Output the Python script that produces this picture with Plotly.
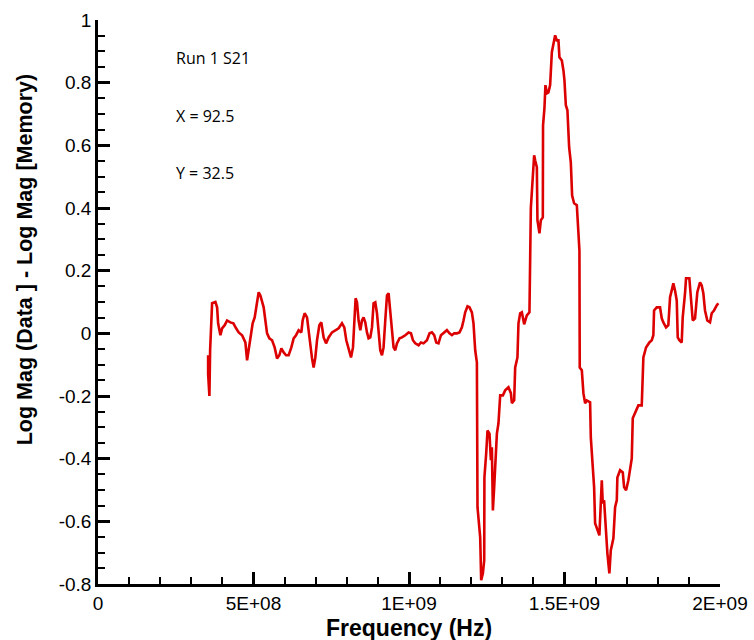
import plotly.graph_objects as go

# Frequency in GHz (converted to Hz below) and Log-Mag difference values
freq_ghz = [
    0.3541, 0.3541, 0.3582, 0.3605, 0.3669, 0.3775, 0.3830, 0.3862, 0.3936, 0.3990,
    0.4074, 0.4151, 0.4257, 0.4353, 0.4440, 0.4524, 0.4633, 0.4739, 0.4794, 0.4845,
    0.4900, 0.4973, 0.5038, 0.5115, 0.5166, 0.5221, 0.5275, 0.5327, 0.5382, 0.5436,
    0.5510, 0.5597, 0.5680, 0.5757, 0.5831, 0.5896, 0.5970, 0.6047, 0.6130, 0.6217,
    0.6291, 0.6368, 0.6451, 0.6538, 0.6580, 0.6644, 0.6721, 0.6773, 0.6827, 0.6882,
    0.6933, 0.6988, 0.7043, 0.7116, 0.7181, 0.7255, 0.7332, 0.7415, 0.7525, 0.7631,
    0.7737, 0.7846, 0.7920, 0.7984, 0.8058, 0.8135, 0.8199, 0.8241, 0.8283, 0.8328,
    0.8379, 0.8434, 0.8488, 0.8540, 0.8594, 0.8649, 0.8700, 0.8755, 0.8810, 0.8861,
    0.8916, 0.8970, 0.9022, 0.9076, 0.9131, 0.9182, 0.9237, 0.9292, 0.9343, 0.9398,
    0.9452, 0.9504, 0.9558, 0.9613, 0.9696, 0.9773, 0.9880, 0.9986, 1.0063, 1.0127,
    1.0201, 1.0307, 1.0384, 1.0468, 1.0577, 1.0660, 1.0737, 1.0811, 1.0876, 1.0949,
    1.1027, 1.1110, 1.1219, 1.1303, 1.1380, 1.1454, 1.1541, 1.1624, 1.1701, 1.1753,
    1.1807, 1.1881, 1.1945, 1.2022, 1.2074, 1.2129, 1.2183, 1.2203, 1.2289, 1.2321,
    1.2376, 1.2418, 1.2425, 1.2482, 1.2524, 1.2588, 1.2633, 1.2665, 1.2697, 1.2739,
    1.2781, 1.2826, 1.2877, 1.2932, 1.3019, 1.3092, 1.3198, 1.3276, 1.3308, 1.3382,
    1.3414, 1.3487, 1.3520, 1.3574, 1.3629, 1.3703, 1.3789, 1.3873, 1.3918, 1.3982,
    1.4024, 1.4056, 1.4111, 1.4130, 1.4195, 1.4239, 1.4303, 1.4310, 1.4355, 1.4387,
    1.4432, 1.4483, 1.4538, 1.4593, 1.4644, 1.4699, 1.4753, 1.4805, 1.4837, 1.4914,
    1.4966, 1.4998, 1.5043, 1.5094, 1.5149, 1.5203, 1.5245, 1.5309, 1.5396, 1.5428,
    1.5480, 1.5490, 1.5557, 1.5608, 1.5663, 1.5717, 1.5823, 1.5846, 1.5910, 1.5952,
    1.5984, 1.6058, 1.6122, 1.6199, 1.6231, 1.6273, 1.6337, 1.6379, 1.6443, 1.6488,
    1.6572, 1.6627, 1.6681, 1.6700, 1.6787, 1.6874, 1.6916, 1.6980, 1.7054, 1.7108,
    1.7163, 1.7195, 1.7269, 1.7375, 1.7484, 1.7536, 1.7622, 1.7729, 1.7806, 1.7857,
    1.7880, 1.7966, 1.8072, 1.8127, 1.8178, 1.8265, 1.8339, 1.8394, 1.8448, 1.8500,
    1.8554, 1.8609, 1.8641, 1.8692, 1.8769, 1.8801, 1.8876, 1.8908, 1.9014, 1.9059,
    1.9123, 1.9197, 1.9271, 1.9357, 1.9412, 1.9464, 1.9518, 1.9592, 1.9679, 1.9733,
    1.9807, 1.9894, 1.9945,
]
logmag_diff = [
    -0.070, -0.130, -0.200, -0.054, 0.096, 0.100, 0.083, 0.032, -0.006, 0.016,
    0.026, 0.041, 0.035, 0.032, 0.016, 0.003, -0.006, -0.029, -0.086, -0.054,
    -0.013, 0.032, 0.051, 0.105, 0.131, 0.121, 0.099, 0.083, 0.041, 0.000,
    -0.016, -0.022, -0.045, -0.080, -0.070, -0.048, -0.061, -0.070, -0.070, -0.045,
    -0.016, -0.006, 0.010, 0.003, 0.041, 0.064, 0.051, 0.003, -0.032, -0.080,
    -0.109, -0.077, -0.022, 0.026, 0.035, -0.013, -0.032, -0.013, 0.003, 0.010,
    0.016, 0.032, 0.019, -0.022, -0.054, -0.077, -0.045, 0.041, 0.112, 0.099,
    0.041, 0.010, 0.041, 0.051, 0.035, 0.003, -0.016, -0.013, 0.019, 0.096,
    0.099, 0.064, 0.010, -0.054, -0.070, -0.045, 0.041, 0.121, 0.128, 0.064,
    0.003, -0.045, -0.054, -0.032, -0.016, -0.013, -0.006, 0.003, 0.000, -0.022,
    -0.032, -0.038, -0.029, -0.032, -0.022, 0.000, 0.003, -0.006, -0.029, -0.032,
    -0.006, 0.000, 0.010, 0.000, -0.006, 0.000, 0.000, 0.003, 0.019, 0.041,
    0.067, 0.086, 0.083, 0.067, 0.032, -0.054, -0.093, -0.555, -0.651, -0.788,
    -0.766, -0.725, -0.460, -0.383, -0.310, -0.320, -0.405, -0.364, -0.565, -0.491,
    -0.383, -0.320, -0.287, -0.198, -0.198, -0.182, -0.172, -0.191, -0.223, -0.214,
    -0.109, -0.077, 0.032, 0.064, 0.067, 0.029, 0.057, 0.067, 0.400, 0.488,
    0.568, 0.552, 0.530, 0.361, 0.319, 0.361, 0.370, 0.664, 0.718, 0.792,
    0.766, 0.769, 0.792, 0.897, 0.926, 0.951, 0.935, 0.935, 0.881, 0.871,
    0.839, 0.808, 0.728, 0.712, 0.594, 0.546, 0.440, 0.415, 0.409, 0.335,
    0.265, -0.109, -0.118, -0.191, -0.223, -0.214, -0.220, -0.332, -0.447, -0.491,
    -0.606, -0.629, -0.645, -0.469, -0.543, -0.533, -0.661, -0.702, -0.766, -0.693,
    -0.654, -0.555, -0.533, -0.460, -0.437, -0.444, -0.491, -0.501, -0.469, -0.428,
    -0.399, -0.271, -0.255, -0.230, -0.230, -0.077, -0.045, -0.029, -0.022, -0.006,
    0.073, 0.083, 0.083, 0.048, 0.035, 0.019, 0.026, 0.115, 0.137, 0.160,
    0.137, 0.105, -0.013, -0.022, -0.029, 0.051, 0.128, 0.176, 0.176, 0.115,
    0.041, 0.048, 0.131, 0.163, 0.153, 0.128, 0.073, 0.041, 0.035, 0.064,
    0.073, 0.089, 0.096,
]
freq_hz = [f * 1e9 for f in freq_ghz]

x_tickvals = [0, 5e8, 1e9, 1.5e9, 2e9]
x_ticktext = ["0", "5E+08", "1E+09", "1.5E+09", "2E+09"]
y_tickvals = [-0.8, -0.6, -0.4, -0.2, 0, 0.2, 0.4, 0.6, 0.8, 1]
y_ticktext = ["-0.8", "-0.6", "-0.4", "-0.2", "0", "0.2", "0.4", "0.6", "0.8", "1"]

notes = ["Run 1 S21", "X = 92.5", "Y = 32.5"]
note_y = [0.878, 0.693, 0.511]

x_title = "Frequency (Hz)"
y_title = "Log Mag (Data ] - Log Mag [Memory)"

tick_font = dict(family="Liberation Sans, Arial, sans-serif", size=19, color="black")
title_font_family = "Liberation Sans, Arial, sans-serif"

fig = go.Figure()
fig.add_trace(go.Scatter(
    x=freq_hz, y=logmag_diff, mode="lines",
    line=dict(color="#dc0000", width=2.6),
    showlegend=False, hoverinfo="skip",
))

for t, yv in zip(notes, note_y):
    fig.add_annotation(
        x=2.43e8, y=yv, xref="x", yref="y", text=t, showarrow=False,
        xanchor="left", yanchor="middle",
        font=dict(family="Open Sans, Noto Sans, sans-serif", size=16, color="black"),
    )

# axis titles placed as annotations to match the reference positions
fig.add_annotation(
    x=0.5, y=-0.078, xref="paper", yref="paper", text=x_title, showarrow=False,
    xanchor="center", yanchor="middle",
    font=dict(family=title_font_family, size=23, color="black", weight="bold"),
)
fig.add_annotation(
    x=-0.118, y=0.575, xref="paper", yref="paper", text=y_title, showarrow=False,
    textangle=-90, xanchor="center", yanchor="middle",
    font=dict(family=title_font_family, size=21.5, color="black", weight="bold"),
)

fig.update_layout(
    width=754, height=640,
    margin=dict(l=98, r=34, t=20, b=56),
    paper_bgcolor="white", plot_bgcolor="white",
    xaxis=dict(
        range=[0, 2e9], showgrid=False, zeroline=False, automargin=False,
        showline=True, linecolor="black", linewidth=2.5,
        ticks="inside", ticklen=12, tickwidth=2.5, tickcolor="black",
        tickvals=x_tickvals, ticktext=x_ticktext, tickfont=tick_font,
        minor=dict(dtick=1e8, tick0=0, ticks="inside", ticklen=7, tickwidth=2, tickcolor="black", showgrid=False),
    ),
    yaxis=dict(
        range=[-0.8, 1], showgrid=False, zeroline=False, automargin=False,
        showline=True, linecolor="black", linewidth=2.5,
        ticks="inside", ticklen=12, tickwidth=2.5, tickcolor="black",
        tickvals=y_tickvals, ticktext=y_ticktext, tickfont=tick_font,
        minor=dict(dtick=0.05, tick0=0, ticks="inside", ticklen=7, tickwidth=2, tickcolor="black", showgrid=False),
    ),
)

fig.write_html("out.html")
